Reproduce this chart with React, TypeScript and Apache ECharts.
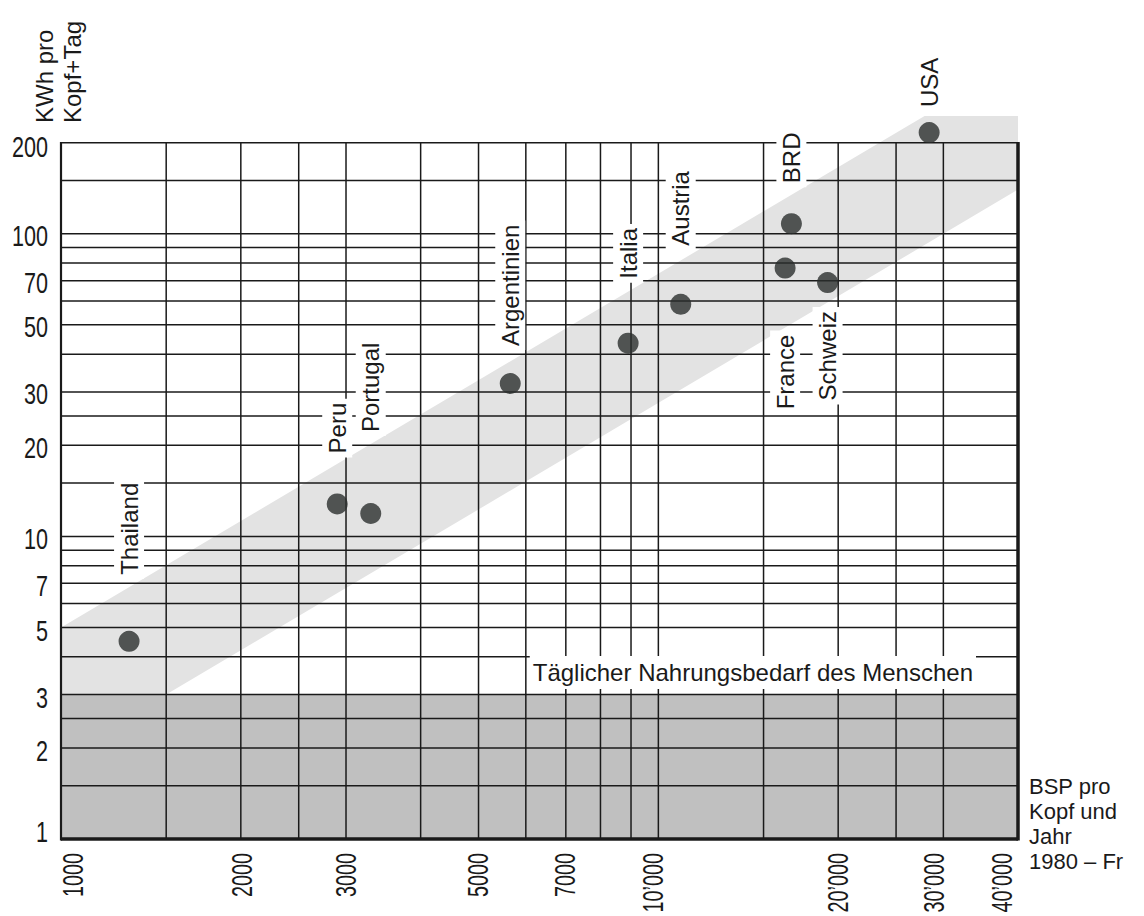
import React, { useEffect, useRef } from "react";
import * as echarts from "echarts";

// ---- data ----
const countries = ["Thailand", "Peru", "Portugal", "Argentinien", "Italia", "Austria", "France", "BRD", "Schweiz", "USA"];
const gnpPerHead = [1300, 2900, 3300, 5650, 8900, 10900, 16300, 16700, 19200, 28400];
const kwhPerDay = [4.5, 12.8, 11.9, 32, 43.5, 58.5, 77, 108, 69, 216];

const xTickValues = [1000, 2000, 3000, 5000, 7000, 10000, 20000, 30000, 40000];
const xTickLabels = ["1000", "2000", "3000", "5000", "7000", "10’000", "20’000", "30’000", "40’000"];
const yTickValues = [1, 2, 3, 5, 7, 10, 20, 30, 50, 70, 100, 200];
const yTickLabels = ["1", "2", "3", "5", "7", "10", "20", "30", "50", "70", "100", "200"];

const xGridValues = [1000, 1500, 2000, 2500, 3000, 4000, 5000, 6000, 7000, 8000, 9000, 10000, 15000, 20000, 25000, 30000, 40000];
const yGridValues = [1, 1.5, 2, 2.5, 3, 4, 5, 6, 7, 8, 9, 10, 15, 20, 25, 30, 40, 50, 60, 70, 80, 90, 100, 150, 200];

const trendBand = [
  [1000, 3],
  [1000, 5],
  [27900, 245],
  [40000, 245],
  [40000, 140],
  [1500, 3],
];
const foodNeedRange = [1, 3];
const foodNeedLabel = "Täglicher Nahrungsbedarf des Menschen";
const yAxisTitle = "KWh pro\nKopf+Tag";
const xAxisTitle = "BSP pro\nKopf und\nJahr\n1980 – Fr";

// ---- layout (not data): label placement and small pixel nudges ----
const labelSide = ["top", "top", "top", "top", "top", "top", "bottom", "top", "bottom", "top"];
const labelGap = [52, 36, 67, 23, 50, 44, 52, 26, 14, 11];
const xLabelNudge = [11, 1, -1, -1, -1, -6, -1, -10, -17];
const yLabelNudge = [-7, 3, 3, 3, 2, 2, 2, 2, 2, 2, 2, 4];

const X_MIN = 1000;
const X_MAX = 40000;
const Y_MIN = 1;
const Y_MAX = 245;
const GRID_TOP_VALUE = 200;

const ink = "#1a1a1a";
const sans = '"Liberation Sans", Arial, Helvetica, sans-serif';
const DIGIT_SIZE = 30;
const Y_DIGIT_SQUEEZE = 0.72;
const X_DIGIT_SQUEEZE = 0.66;

export default function App() {
  const ref = useRef<HTMLDivElement>(null);

  useEffect(() => {
    const chart = echarts.init(ref.current!, null, { renderer: "svg" });

    const scatterData = countries.map((name, i) => {
      const side = labelSide[i];
      return {
        name,
        value: [gnpPerHead[i], kwhPerDay[i]],
        label: {
          position: side,
          distance: labelGap[i],
          align: side === "top" ? "left" : "right",
        },
      };
    });

    const option: any = {
      animation: false,
      backgroundColor: "#ffffff",
      textStyle: { fontFamily: sans },
      grid: { left: 61, right: 126, top: 116, bottom: 77, containLabel: false, outerBoundsMode: "none" },
      xAxis: {
        type: "log",
        logBase: 10,
        min: X_MIN,
        max: X_MAX,
        axisLine: { show: false },
        axisTick: { show: false },
        splitLine: { show: false },
        minorSplitLine: { show: false },
        axisLabel: { show: false },
      },
      yAxis: {
        type: "log",
        logBase: 10,
        min: Y_MIN,
        max: Y_MAX,
        axisLine: { show: false },
        axisTick: { show: false },
        splitLine: { show: false },
        minorSplitLine: { show: false },
        axisLabel: { show: false },
      },
      graphic: [
        {
          type: "text",
          x: 30,
          y: 123,
          rotation: Math.PI / 2,
          silent: true,
          style: {
            text: yAxisTitle,
            fontSize: 24,
            fontFamily: sans,
            lineHeight: 28,
            fill: ink,
            align: "left",
            verticalAlign: "top",
          },
        },
        {
          type: "text",
          x: 1029,
          y: 774,
          silent: true,
          style: {
            text: xAxisTitle,
            fontSize: 22,
            fontFamily: sans,
            lineHeight: 25,
            fill: ink,
            align: "left",
            verticalAlign: "top",
          },
        },
      ],
      series: [
        {
          type: "custom",
          name: "band",
          z: 1,
          silent: true,
          clip: false,
          data: trendBand,
          renderItem: (params: any, api: any) => {
            if (params.dataIndex !== 0) return null;
            const points = trendBand.map((p) => api.coord(p));
            return { type: "polygon", shape: { points }, style: { fill: "#e3e3e3" } };
          },
        },
        {
          type: "custom",
          name: "food",
          z: 1,
          silent: true,
          clip: false,
          data: [
            [X_MIN, foodNeedRange[0]],
            [X_MAX, foodNeedRange[1]],
          ],
          renderItem: (params: any, api: any) => {
            if (params.dataIndex !== 0) return null;
            const a = api.coord([X_MIN, foodNeedRange[1]]);
            const b = api.coord([X_MAX, foodNeedRange[0]]);
            return {
              type: "rect",
              shape: { x: a[0], y: a[1], width: b[0] - a[0], height: b[1] - a[1] },
              style: { fill: "#c0c0c0" },
            };
          },
        },
        {
          type: "custom",
          name: "vgrid",
          z: 2,
          silent: true,
          clip: false,
          data: xGridValues.map((v) => [v, Y_MIN]),
          renderItem: (params: any, api: any) => {
            const v = api.value(0);
            const a = api.coord([v, Y_MIN]);
            const b = api.coord([v, GRID_TOP_VALUE]);
            const edge = v === X_MIN || v === X_MAX;
            const w = v === X_MAX ? 3.5 : v === X_MIN ? 2.2 : 1.5;
            return {
              type: "line",
              shape: { x1: a[0], y1: a[1] + (edge ? 1.5 : 0), x2: b[0], y2: b[1] - (edge ? 0.75 : 0) },
              style: { stroke: ink, lineWidth: w },
            };
          },
        },
        {
          type: "custom",
          name: "hgrid",
          z: 2,
          silent: true,
          clip: false,
          data: yGridValues.map((v) => [X_MIN, v]),
          renderItem: (params: any, api: any) => {
            const v = api.value(1);
            const a = api.coord([X_MIN, v]);
            const b = api.coord([X_MAX, v]);
            const w = v === Y_MIN ? 3.5 : 1.5;
            return {
              type: "line",
              shape: { x1: a[0], y1: a[1], x2: b[0], y2: b[1] },
              style: { stroke: ink, lineWidth: w },
            };
          },
        },
        {
          type: "custom",
          name: "xTickLabels",
          z: 3,
          silent: true,
          clip: false,
          data: xTickValues.map((v) => [v, Y_MIN]),
          renderItem: (params: any, api: any) => {
            const i = params.dataIndex;
            const p = api.coord([api.value(0), Y_MIN]);
            return {
              type: "text",
              x: p[0] + xLabelNudge[i],
              y: p[1] + 14,
              rotation: Math.PI / 2,
              scaleX: X_DIGIT_SQUEEZE,
              style: {
                text: xTickLabels[i],
                fontSize: DIGIT_SIZE,
                fontFamily: sans,
                fill: ink,
                align: "right",
                verticalAlign: "middle",
              },
            };
          },
        },
        {
          type: "custom",
          name: "yTickLabels",
          z: 3,
          silent: true,
          clip: false,
          data: yTickValues.map((v) => [X_MIN, v]),
          renderItem: (params: any, api: any) => {
            const i = params.dataIndex;
            const p = api.coord([X_MIN, api.value(1)]);
            return {
              type: "text",
              x: p[0] - 13,
              y: p[1] + yLabelNudge[i],
              scaleX: Y_DIGIT_SQUEEZE,
              style: {
                text: yTickLabels[i],
                fontSize: DIGIT_SIZE,
                fontFamily: sans,
                fill: ink,
                align: "right",
                verticalAlign: "middle",
              },
            };
          },
        },
        {
          type: "custom",
          name: "foodLabel",
          z: 4,
          silent: true,
          clip: false,
          data: [[X_MAX, foodNeedRange[1]]],
          renderItem: (params: any, api: any) => {
            const p = api.coord([api.value(0), api.value(1)]);
            return {
              type: "text",
              x: p[0] - 42,
              y: p[1] - 22,
              style: {
                text: foodNeedLabel,
                fontSize: 24,
                fontFamily: sans,
                lineHeight: 27,
                fill: ink,
                align: "right",
                verticalAlign: "middle",
                backgroundColor: "#ffffff",
                padding: [3, 3],
              },
            };
          },
        },
        {
          type: "scatter",
          name: "Länder",
          z: 5,
          symbol: "circle",
          symbolSize: 21,
          itemStyle: { color: "#2b2e2d" },
          label: {
            show: true,
            formatter: "{b}",
            rotate: 90,
            verticalAlign: "middle",
            fontSize: 24,
            fontWeight: "normal",
            fontFamily: sans,
            lineHeight: 26,
            color: ink,
            opacity: 1,
            textBorderWidth: 0,
            textBorderColor: "transparent",
            backgroundColor: "#ffffff",
            padding: [2, 4],
          },
          data: scatterData,
        },
      ],
    };

    chart.setOption(option);
    return () => chart.dispose();
  }, []);

  return (
    <div
      ref={ref}
      style={{ position: "absolute", left: 0, top: 0, width: 1144, height: 916, background: "#fff" }}
    />
  );
}
